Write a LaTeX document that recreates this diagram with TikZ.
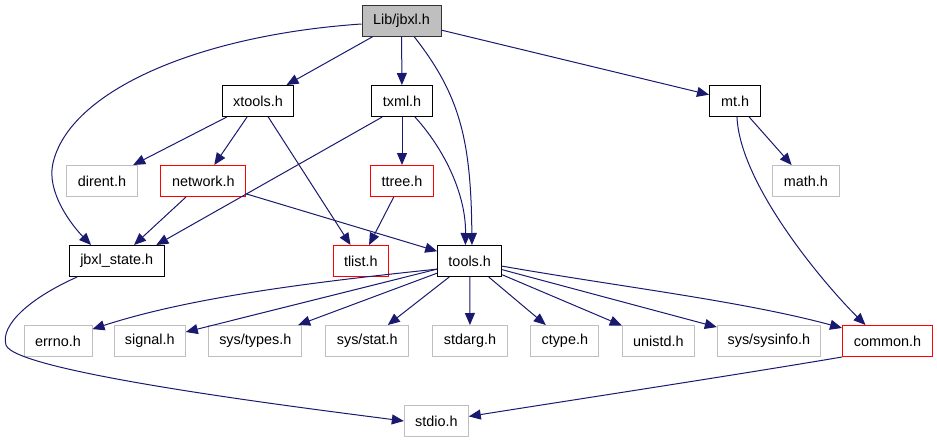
\documentclass[tikz,border=0pt]{standalone}
\usepackage{fontspec}
\setmainfont{Liberation Sans}
\usetikzlibrary{arrows.meta}
\definecolor{edgeblue}{HTML}{191970}
\definecolor{greyline}{HTML}{BFBFBF}
\tikzset{
    file/.style={rectangle, inner sep=0pt, line width=0.75pt, minimum height=23.25pt, minimum width=#1*0.75pt, font=\fontsize{10.8}{13}\selectfont},
    rootfile/.style={file=#1, draw=black!80, fill=greyline},
    docfile/.style={file=#1, draw=black},
    sysfile/.style={file=#1, draw=greyline},
    nodocfile/.style={file=#1, draw=red},
    dep/.style={draw=edgeblue, line width=0.75pt, -{Triangle[length=9pt,width=7.5pt]}}
}
\begin{document}
\begin{tikzpicture}[x=0.75pt, y=-0.75pt]
    \useasboundingbox (0,0) rectangle (937,443);
    \node[rootfile=79] (jbxl) at (401.5,20.5) {Lib/jbxl.h}; %% top
    \node[docfile=71] (xtools) at (258,101) {xtools.h};
    \node[docfile=61] (txml) at (402,101) {txml.h};
    \node[docfile=51] (mt) at (735,101) {mt.h};
    \node[sysfile=71] (dirent) at (102,181) {dirent.h};
    \node[nodocfile=85] (network) at (203.3,181) {network.h};
    \node[nodocfile=63] (ttree) at (402,181) {ttree.h};
    \node[sysfile=67] (mathh) at (805.8,181) {math.h};
    \node[docfile=95] (jstate) at (116.7,261) {jbxl\_state.h};
    \node[nodocfile=55] (tlist) at (360.8,261) {tlist.h};
    \node[docfile=64] (tools) at (469.7,261) {tools.h};
    \node[sysfile=68] (errno) at (58,341) {errno.h}; %% row of system headers
    \node[sysfile=71] (signal) at (149.8,341) {signal.h};
    \node[sysfile=93] (systypes) at (255.3,341) {sys/types.h};
    \node[sysfile=83] (sysstat) at (367.3,341) {sys/stat.h};
    \node[sysfile=75] (stdarg) at (470,341) {stdarg.h};
    \node[sysfile=68] (ctype) at (564.8,341) {ctype.h};
    \node[sysfile=72] (unistd) at (658.3,341) {unistd.h};
    \node[sysfile=103] (sysinfo) at (768.8,341) {sys/sysinfo.h};
    \node[nodocfile=90] (common) at (887.5,341) {common.h};
    \node[sysfile=64] (stdio) at (436.3,421) {stdio.h};
    \draw[dep] (jbxl.185) .. controls (200,35) and (70,90) .. (53,163) .. controls (46,192) and (72,225.5) .. (jstate.148); %% long way round
    \draw[dep] (jbxl) -- (xtools);
    \draw[dep] (jbxl) -- (txml);
    \draw[dep] (jbxl.308) .. controls (460,95) and (471,140) .. (tools.82);
    \draw[dep] (jbxl) -- (mt);
    \draw[dep] (xtools) -- (dirent);
    \draw[dep] (xtools) -- (network);
    \draw[dep] (xtools) -- (tlist);
    \draw[dep] (network) -- (jstate);
    \draw[dep] (network) -- (tools);
    \draw[dep] (txml.219) -- (jstate.22);
    \draw[dep] (txml) -- (ttree);
    \draw[dep] (txml.309) .. controls (445,150) and (466,195) .. (tools.105);
    \draw[dep] (ttree) -- (tlist);
    \draw[dep] (mt) -- (mathh);
    \draw[dep] (mt.277) .. controls (740,185) and (825,285) .. (common.144);
    \draw[dep] (tools.194) .. controls (318,281.6) and (192,296.7) .. (errno.19); %% tools.h fan
    \draw[dep] (tools) -- (signal);
    \draw[dep] (tools) -- (systypes);
    \draw[dep] (tools) -- (sysstat);
    \draw[dep] (tools) -- (stdarg);
    \draw[dep] (tools) -- (ctype);
    \draw[dep] (tools) -- (unistd);
    \draw[dep] (tools) -- (sysinfo);
    \draw[dep] (tools.351) .. controls (621.7,287) and (742,301) .. (common.164);
    \draw[dep] (jstate.202) .. controls (30,298) and (0,325) .. (6,345) .. controls (14,372) and (304,408) .. (stdio.west); %% hook on the left
    \draw[dep] (common.south west) .. controls (742,374) and (568,400.7) .. (stdio.8);
\end{tikzpicture}
\end{document}
